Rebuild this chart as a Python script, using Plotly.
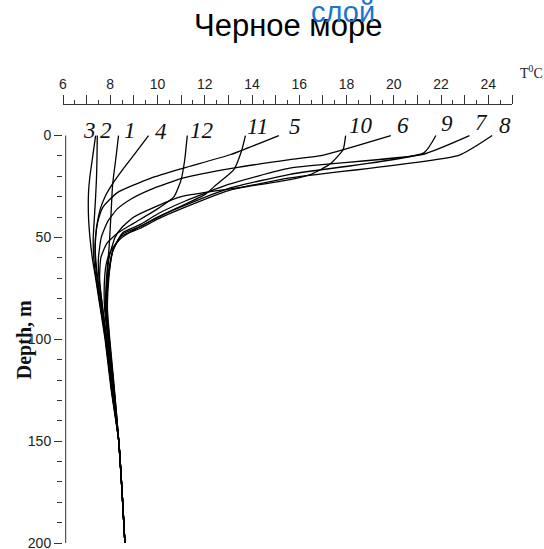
import plotly.graph_objects as go

# Monthly temperature profiles (depth in m, temperature in deg C), months 1..12
months = ["1", "2", "3", "4", "5", "6", "7", "8", "9", "10", "11", "12"]

depth_1 = [0, 10, 24, 39, 55, 70, 85]
temp_1 = [8.35, 8.25, 8.10, 8.03, 7.95, 7.84, 7.80]

depth_2 = [0, 10, 20, 30, 40, 50, 60, 70, 85]
temp_2 = [7.45, 7.44, 7.42, 7.38, 7.33, 7.28, 7.30, 7.40, 7.60]

depth_3 = [0, 10, 20, 28, 40, 50, 60, 70, 85]
temp_3 = [7.38, 7.26, 7.14, 7.08, 7.08, 7.14, 7.24, 7.38, 7.58]

depth_4 = [0, 8, 16, 24, 30, 36, 45, 55, 65, 85]
temp_4 = [9.62, 9.10, 8.57, 8.08, 7.78, 7.58, 7.42, 7.36, 7.42, 7.64]

depth_5 = [0, 9.3, 16, 21, 28, 35, 42, 50, 60, 70, 85]
temp_5 = [15.13, 13.10, 11.10, 9.70, 8.30, 7.70, 7.48, 7.38, 7.36, 7.44, 7.64]

depth_6 = [0, 9.7, 11.8, 16, 20.8, 26.5, 31, 36, 42, 50, 60, 70, 85]
temp_6 = [19.87, 16.97, 15.60, 13.20, 11.10, 9.70, 8.90, 8.30, 7.90, 7.62, 7.50, 7.52, 7.68]

depth_7 = [0, 9.3, 16, 24, 32, 38.5, 43.5, 47.5, 55, 68, 85]
temp_7 = [23.20, 21.20, 15.60, 13.00, 11.20, 10.00, 9.30, 8.55, 8.15, 7.90, 7.82]

depth_8 = [0, 9.7, 20.8, 27, 35, 41, 45.5, 49.5, 57.5, 70, 85]
temp_8 = [24.16, 22.75, 15.60, 13.00, 11.20, 10.00, 9.28, 8.45, 8.08, 7.94, 7.88]

depth_9 = [0, 8.5, 19, 26, 34, 40, 44.5, 48.5, 56, 70, 85]
temp_9 = [21.78, 21.27, 15.60, 13.00, 11.20, 10.00, 9.30, 8.50, 8.12, 7.92, 7.86]

depth_10 = [0, 7, 14, 19, 21.6, 25, 30, 35, 40, 45, 50, 60, 75, 85]
temp_10 = [17.96, 17.85, 17.30, 16.50, 15.60, 13.80, 11.00, 9.90, 9.00, 8.50, 8.20, 7.95, 7.84, 7.82]

depth_11 = [0, 7.7, 16.7, 24, 29, 35.5, 42, 47, 51, 56, 62, 70, 85]
temp_11 = [13.72, 13.55, 13.23, 12.50, 12.00, 10.83, 9.70, 8.90, 8.40, 8.05, 7.85, 7.76, 7.76]

depth_12 = [0, 12, 21.6, 30, 36, 43, 48, 53, 60, 70, 85]
temp_12 = [11.26, 11.15, 11.00, 10.70, 10.00, 9.00, 8.30, 7.85, 7.60, 7.55, 7.68]

# Below 85 m each month continues into the common deep profile
temp_100 = [7.92, 7.80, 7.78, 7.82, 7.80, 7.84, 7.95, 7.98, 7.96, 7.92, 7.90, 7.86]
temp_125 = [8.14, 8.06, 8.04, 8.07, 8.06, 8.09, 8.16, 8.18, 8.17, 8.14, 8.12, 8.10]
deep_depth = [150, 175, 200]
deep_temp = [8.36, 8.50, 8.62]

profiles = [
    (depth_1, temp_1), (depth_2, temp_2), (depth_3, temp_3), (depth_4, temp_4),
    (depth_5, temp_5), (depth_6, temp_6), (depth_7, temp_7), (depth_8, temp_8),
    (depth_9, temp_9), (depth_10, temp_10), (depth_11, temp_11), (depth_12, temp_12),
]

# Month label positions (temperature, depth of the label's lower edge)
label_temp = [8.84, 7.84, 7.12, 10.13, 15.80, 20.37, 23.71, 24.69, 22.23, 18.59, 14.23, 11.84]
label_depth = [4.4, 4.4, 4.4, 4.9, 2.9, 2.0, 0.5, 2.0, 1.0, 2.0, 2.9, 4.4]

x_ticks = list(range(6, 26))
x_ticktext = [str(v) if v % 2 == 0 and v <= 24 else "" for v in x_ticks]
y_ticks = [0, 50, 100, 150, 200]
y_ticktext = ["0", "50", "100", "150", "200"]
y_minor = [v for v in range(10, 200, 10) if v % 50 != 0]

fig = go.Figure()
for i, (d, t) in enumerate(profiles):
    fig.add_trace(go.Scatter(
        x=t + [temp_100[i], temp_125[i]] + deep_temp,
        y=d + [100, 125] + deep_depth,
        mode="lines",
        line=dict(color="black", width=1.3, shape="spline", smoothing=0.5),
        showlegend=False, hoverinfo="skip",
    ))

tick_font = dict(family="Liberation Sans Narrow, Arial Narrow, Liberation Sans", size=14, color="#222")

fig.update_layout(
    width=544, height=549,
    margin=dict(l=62.5, r=32.4, t=105, b=6, autoexpand=False),
    paper_bgcolor="white", plot_bgcolor="white",
    xaxis=dict(
        range=[6, 25], side="top", showgrid=False, zeroline=False, automargin=False,
        showline=True, linecolor="#333", linewidth=1,
        tickmode="array", tickvals=x_ticks, ticktext=x_ticktext,
        ticks="outside", ticklen=9, tickwidth=1, tickcolor="#333",
        tickfont=tick_font,
        minor=dict(tickmode="linear", tick0=6.5, dtick=1, ticks="outside",
                   ticklen=4, tickwidth=1, tickcolor="#333", showgrid=False),
    ),
    yaxis=dict(
        range=[200, -15], showgrid=False, zeroline=False, showline=False, automargin=False,
        tickmode="array", tickvals=y_ticks, ticktext=y_ticktext, ticklabeloverflow="allow",
        ticks="outside", ticklen=8, tickwidth=1, tickcolor="#333",
        tickfont=tick_font,
        minor=dict(tickmode="array", tickvals=y_minor, ticks="outside",
                   ticklen=5, tickwidth=1, tickcolor="#333", showgrid=False),
    ),
)

# Depth axis line, from the surface down to 200 m
fig.add_shape(type="line", xref="paper", yref="y", x0=0.006, x1=0.006, y0=0, y1=200,
              line=dict(color="#333", width=1))

for name, tx, dy in zip(months, label_temp, label_depth):
    fig.add_annotation(x=tx, y=dy, xref="x", yref="y", text="<i>" + name + "</i>",
                       showarrow=False, xanchor="center", yanchor="bottom",
                       font=dict(family="Liberation Serif", size=23, color="#111"))

fig.add_annotation(x=-0.087, y=100, xref="paper", yref="y", text="<b>Depth, m</b>",
                   textangle=-90, showarrow=False, xanchor="center", yanchor="middle",
                   font=dict(family="Liberation Serif", size=20, color="#111"))

fig.add_annotation(x=1.043, y=1.075, xref="paper", yref="paper", text="T<sup>0</sup>C",
                   showarrow=False, xanchor="center", yanchor="middle",
                   font=dict(family="Liberation Serif", size=14, color="#222"))

fig.add_annotation(x=0.5, y=1.137, xref="paper", yref="paper", text="Черное море",
                   showarrow=False, xanchor="center", yanchor="bottom",
                   font=dict(family="Liberation Sans, Arial", size=31, color="black"))
fig.add_annotation(x=0.624, y=1.172, xref="paper", yref="paper", text="слой",
                   showarrow=False, xanchor="center", yanchor="bottom",
                   font=dict(family="Liberation Sans, Arial", size=29, color="#1a75cf"))

fig.write_html("out.html")
